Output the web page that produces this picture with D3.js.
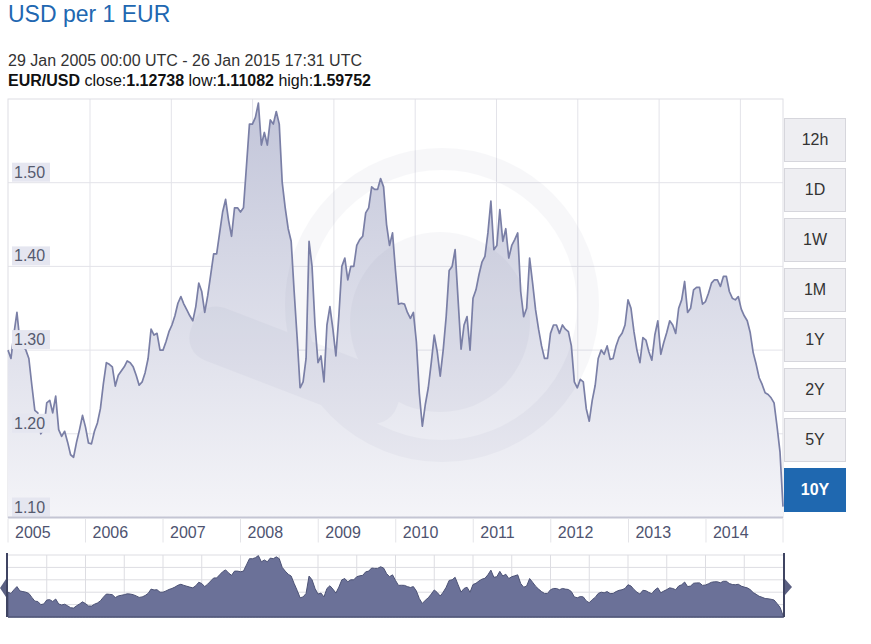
<!DOCTYPE html>
<html>
<head>
<meta charset="utf-8">
<script src="https://cdn.jsdelivr.net/npm/d3@7"></script>
<style>
  body { margin: 0; background: #fff; }
  svg { display: block; font-family: Arial, "Liberation Sans", sans-serif; }
</style>
</head>
<body>
<svg id="chart" width="871" height="644"></svg>
<script>
// EUR/USD, roughly two points a month (one array per year of the range)
const rate2005 = [1.300, 1.290, 1.320, 1.345, 1.310, 1.305, 1.300, 1.290, 1.258, 1.228, 1.225, 1.200, 1.205,
                  1.237, 1.240, 1.225, 1.245, 1.205, 1.197, 1.203, 1.190, 1.175, 1.172, 1.190, 1.205, 1.222];
const rate2006 = [1.208, 1.189, 1.188, 1.203, 1.213, 1.230, 1.260, 1.285, 1.283, 1.280, 1.257, 1.270, 1.275,
                  1.280, 1.287, 1.285, 1.280, 1.270, 1.258, 1.262, 1.273, 1.290, 1.325, 1.318, 1.320, 1.300];
const rate2007 = [1.300, 1.310, 1.322, 1.330, 1.341, 1.356, 1.364, 1.355, 1.348, 1.341, 1.335, 1.352, 1.380,
                  1.370, 1.345, 1.365, 1.390, 1.415, 1.415, 1.440, 1.465, 1.480, 1.455, 1.436, 1.470, 1.470];
const rate2008 = [1.465, 1.470, 1.520, 1.570, 1.570, 1.578, 1.595, 1.545, 1.560, 1.545, 1.575, 1.570, 1.585,
                  1.570, 1.500, 1.470, 1.445, 1.430, 1.370, 1.315, 1.255, 1.262, 1.290, 1.430, 1.400, 1.330];
const rate2009 = [1.285, 1.293, 1.262, 1.330, 1.352, 1.325, 1.293, 1.341, 1.400, 1.410, 1.384, 1.400, 1.400,
                  1.425, 1.432, 1.436, 1.464, 1.470, 1.495, 1.492, 1.492, 1.505, 1.495, 1.450, 1.425, 1.440];
const rate2010 = [1.395, 1.355, 1.356, 1.355, 1.345, 1.338, 1.345, 1.310, 1.248, 1.209, 1.235, 1.255, 1.285,
                  1.318, 1.298, 1.269, 1.300, 1.340, 1.395, 1.400, 1.420, 1.360, 1.301, 1.330, 1.340, 1.300];
const rate2011 = [1.362, 1.372, 1.390, 1.405, 1.412, 1.440, 1.478, 1.420, 1.425, 1.468, 1.430, 1.445, 1.410,
                  1.425, 1.432, 1.440, 1.370, 1.340, 1.350, 1.410, 1.380, 1.348, 1.325, 1.305, 1.290, 1.290];
const rate2012 = [1.320, 1.330, 1.330, 1.320, 1.330, 1.325, 1.322, 1.305, 1.262, 1.255, 1.265, 1.262, 1.230,
                  1.215, 1.240, 1.258, 1.290, 1.300, 1.295, 1.305, 1.289, 1.290, 1.305, 1.315, 1.320, 1.330];
const rate2013 = [1.360, 1.350, 1.322, 1.300, 1.285, 1.315, 1.312, 1.298, 1.288, 1.318, 1.335, 1.295, 1.309,
                  1.321, 1.335, 1.330, 1.320, 1.350, 1.360, 1.382, 1.345, 1.350, 1.372, 1.375, 1.375, 1.355];
const rate2014 = [1.358, 1.368, 1.380, 1.384, 1.384, 1.376, 1.388, 1.388, 1.370, 1.362, 1.360, 1.364, 1.349,
                  1.341, 1.335, 1.321, 1.297, 1.283, 1.267, 1.259, 1.249, 1.247, 1.243, 1.237, 1.209, 1.178, 1.113];

const yTicks = [1.10, 1.20, 1.30, 1.40, 1.50];
const yearLabels = ["2005", "2006", "2007", "2008", "2009", "2010", "2011", "2012", "2013", "2014"];
const rangeButtons = ["12h", "1D", "1W", "1M", "1Y", "2Y", "5Y", "10Y"];
const activeButton = "10Y";

const startDate = new Date(Date.UTC(2005, 0, 29, 0, 0));
const endDate = new Date(Date.UTC(2015, 0, 26, 17, 31));

// join the years and spread them evenly over the range
const values = [].concat(rate2005, rate2006, rate2007, rate2008, rate2009,
                         rate2010, rate2011, rate2012, rate2013, rate2014);
const span = endDate - startDate;
const data = values.map((v, i) => ({
  date: new Date(+startDate + span * i / (values.length - 1)),
  value: v
}));

// plot box
const plotLeft = 8, plotRight = 783, plotTop = 99, plotBottom = 517.5;
const navTop = 555, navBottom = 617;

const svg = d3.select("#chart");

const x = d3.scaleTime().domain([startDate, endDate]).range([plotLeft, plotRight]);
const y = d3.scaleLinear().domain([1.10, 1.60]).range([plotBottom, plotTop]);
const yNav = d3.scaleLinear().domain([1.10, 1.60]).range([navBottom, navTop]);

// header
svg.append("text")
  .attr("x", 8).attr("y", 21.5)
  .attr("font-size", 23).attr("fill", "#2167b1")
  .text("USD per 1 EUR");

svg.append("text")
  .attr("x", 8).attr("y", 66)
  .attr("font-size", 16).attr("fill", "#333")
  .text("29 Jan 2005 00:00 UTC - 26 Jan 2015 17:31 UTC");

const info = svg.append("text")
  .attr("x", 8).attr("y", 86)
  .attr("font-size", 16).attr("fill", "#111");
[["EUR/USD", true], [" close:", false], ["1.12738", true], [" low:", false],
 ["1.11082", true], [" high:", false], ["1.59752", true]].forEach(p => {
  info.append("tspan").attr("font-weight", p[1] ? "bold" : "normal").text(p[0]);
});

// gradient for the area
const defs = svg.append("defs");
const grad = defs.append("linearGradient")
  .attr("id", "areaFill")
  .attr("gradientUnits", "userSpaceOnUse")
  .attr("x1", 0).attr("x2", 0).attr("y1", plotTop).attr("y2", plotBottom);
grad.append("stop").attr("offset", "0%").attr("stop-color", "#c2c5d9");
grad.append("stop").attr("offset", "100%").attr("stop-color", "#f4f4f8");

// grid
const grid = svg.append("g").attr("stroke", "#e3e3e9").attr("stroke-width", 1);
grid.selectAll(".h")
  .data(yTicks.filter(t => t > 1.10))
  .enter().append("line")
  .attr("x1", plotLeft).attr("x2", plotRight)
  .attr("y1", d => y(d)).attr("y2", d => y(d));
grid.selectAll(".v")
  .data(d3.range(9))
  .enter().append("line")
  .attr("x1", d => 90 + d * 81.3).attr("x2", d => 90 + d * 81.3)
  .attr("y1", plotTop).attr("y2", plotBottom);

// plot frame
svg.append("rect")
  .attr("x", plotLeft).attr("y", plotTop)
  .attr("width", plotRight - plotLeft).attr("height", plotBottom - plotTop)
  .attr("fill", "none").attr("stroke", "#dedee4");

// area + line
const area = d3.area()
  .x(d => x(d.date))
  .y0(plotBottom)
  .y1(d => y(d.value));

svg.append("path")
  .datum(data)
  .attr("d", area)
  .attr("fill", "url(#areaFill)");

// faint logo watermark
const mark = svg.append("g").attr("opacity", 0.045).attr("fill", "#5a5f8c");
mark.append("circle")
  .attr("cx", 442).attr("cy", 305).attr("r", 146)
  .attr("fill", "none").attr("stroke", "#5a5f8c").attr("stroke-width", 22);
mark.append("circle").attr("cx", 440).attr("cy", 322).attr("r", 90);
mark.append("rect")
  .attr("x", -110).attr("y", -28).attr("width", 220).attr("height", 56).attr("rx", 24)
  .attr("transform", "translate(295,365) rotate(21)");

const line = d3.line()
  .x(d => x(d.date))
  .y(d => y(d.value));

svg.append("path")
  .datum(data)
  .attr("d", line)
  .attr("fill", "none")
  .attr("stroke", "#7a7fa6")
  .attr("stroke-width", 1.7)
  .attr("stroke-linejoin", "round");

// y labels (inside the plot, with a tinted box)
const yLab = svg.append("g").selectAll("g")
  .data(yTicks)
  .enter().append("g")
  .attr("transform", d => `translate(12, ${y(d) - 20})`);
yLab.append("rect")
  .attr("width", 38).attr("height", 19)
  .attr("fill", "#e5e6f0");
yLab.append("text")
  .attr("x", 2).attr("y", 15)
  .attr("font-size", 16).attr("fill", "#555a6e")
  .text(d => d.toFixed(2));

// x axis
svg.append("line")
  .attr("x1", plotLeft).attr("x2", plotRight)
  .attr("y1", plotBottom).attr("y2", plotBottom)
  .attr("stroke", "#c4c5d3").attr("stroke-width", 2);

const yearTicks = yearLabels.map((s, i) => new Date(Date.UTC(2005 + i, 0, 29)));
const xAxis = svg.append("g").selectAll("g")
  .data(yearTicks)
  .enter().append("g")
  .attr("transform", d => `translate(${x(d)}, ${plotBottom})`);
xAxis.append("line")
  .attr("y1", 1).attr("y2", 25)
  .attr("stroke", "#e4e4e8");
xAxis.append("text")
  .attr("x", 7).attr("y", 20)
  .attr("font-size", 16).attr("fill", "#4e5370")
  .text((d, i) => yearLabels[i]);
svg.append("line")
  .attr("x1", plotRight).attr("x2", plotRight)
  .attr("y1", plotBottom + 1).attr("y2", plotBottom + 25)
  .attr("stroke", "#e4e4e8");

// range buttons
const btn = svg.append("g").selectAll("g")
  .data(rangeButtons)
  .enter().append("g")
  .attr("transform", (d, i) => `translate(784, ${118 + i * 50})`);
btn.append("rect")
  .attr("x", 0.5).attr("y", 0.5)
  .attr("width", 61).attr("height", 43)
  .attr("fill", d => d === activeButton ? "#1f68b0" : "#eeeef2")
  .attr("stroke", d => d === activeButton ? "#1f68b0" : "#d6d6dc");
btn.append("text")
  .attr("x", 31).attr("y", 27)
  .attr("text-anchor", "middle")
  .attr("font-size", 16)
  .attr("font-weight", d => d === activeButton ? "bold" : "normal")
  .attr("fill", d => d === activeButton ? "#fff" : "#333")
  .text(d => d);

// navigator
const nav = svg.append("g");
const navGrid = nav.append("g").attr("stroke", "#dddde2");
navGrid.selectAll(".h")
  .data([1.20, 1.30, 1.40, 1.50, 1.60])
  .enter().append("line")
  .attr("x1", plotLeft).attr("x2", plotRight)
  .attr("y1", d => yNav(d)).attr("y2", d => yNav(d));
navGrid.selectAll(".v")
  .data(d3.range(1, 20))
  .enter().append("line")
  .attr("x1", d => plotLeft + d * (plotRight - plotLeft) / 20)
  .attr("x2", d => plotLeft + d * (plotRight - plotLeft) / 20)
  .attr("y1", navTop).attr("y2", navBottom);

const navArea = d3.area()
  .x(d => x(d.date))
  .y0(navBottom)
  .y1(d => yNav(d.value));
nav.append("path")
  .datum(data)
  .attr("d", navArea)
  .attr("fill", "#6b7198")
  .attr("stroke", "#4c5275")
  .attr("stroke-width", 1);

nav.append("line")
  .attr("x1", plotLeft).attr("x2", plotRight + 1)
  .attr("y1", navBottom).attr("y2", navBottom)
  .attr("stroke", "#555b7c").attr("stroke-width", 1.5);
nav.append("line")
  .attr("x1", 7).attr("x2", 7)
  .attr("y1", navTop - 2).attr("y2", navBottom)
  .attr("stroke", "#3f4462").attr("stroke-width", 2);
nav.append("line")
  .attr("x1", 784).attr("x2", 784)
  .attr("y1", navTop - 2).attr("y2", navBottom)
  .attr("stroke", "#3f4462").attr("stroke-width", 2);
nav.append("path")
  .attr("d", "M6,579 L0,588 L6,597 Z")
  .attr("fill", "#5b6082");
nav.append("path")
  .attr("d", "M785,579 L792,587 L785,595 Z")
  .attr("fill", "#5b6082");
</script>
</body>
</html>
